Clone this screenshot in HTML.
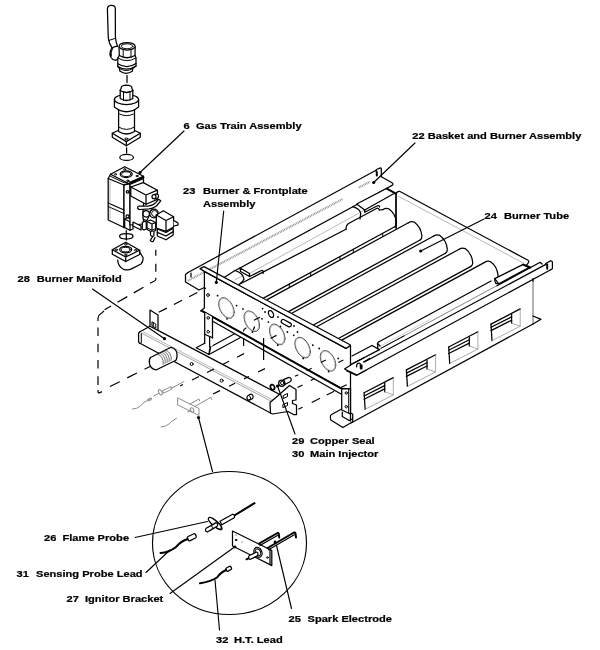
<!DOCTYPE html>
<html><head><meta charset="utf-8"><title>Burner Assembly</title>
<style>
html,body{margin:0;padding:0;background:#fff;}
svg{display:block;will-change:transform;}
svg *{vector-effect:none;}
.k{fill:none;stroke:#000;stroke-width:1.25;stroke-linecap:round;stroke-linejoin:round;}
.kf{fill:#fff;stroke:#000;stroke-width:1.25;stroke-linecap:round;stroke-linejoin:round;}
.t{fill:none;stroke:#000;stroke-width:1;stroke-linecap:round;stroke-linejoin:round;}
.tf{fill:#fff;stroke:#000;stroke-width:0.9;stroke-linecap:round;stroke-linejoin:round;}
.l{fill:none;stroke:#000;stroke-width:1.15;stroke-linecap:round;}
.g{fill:none;stroke:#999;stroke-width:0.7;stroke-linecap:round;stroke-linejoin:round;}
.gg{fill:none;stroke:#bbb;stroke-width:0.7;}
.b{fill:none;stroke:#000;stroke-width:2;stroke-linecap:round;stroke-linejoin:round;}
.d{fill:none;stroke:#000;stroke-width:1.2;stroke-dasharray:9 9;}
.dot{fill:#000;stroke:none;}
.w{fill:#fff;stroke:none;}
text{font-family:"Liberation Sans",Arial,Helvetica,sans-serif;font-weight:bold;font-size:11.1px;fill:#000;stroke:#000;stroke-width:0.25px;}
</style></head><body>
<svg width="600" height="650" viewBox="0 0 600 650">
<rect x="0" y="0" width="600" height="650" fill="#fff"/>
<text transform="translate(183.5 128.9) scale(1 0.9)">6</text>
<text transform="translate(196.0 128.9) scale(1 0.9)">Gas Train Assembly</text>
<text transform="translate(412.3 138.7) scale(1 0.9)">22 Basket and Burner Assembly</text>
<text transform="translate(183.0 194.4) scale(1 0.9)">23</text>
<text transform="translate(203.0 194.4) scale(1 0.9)">Burner &amp; Frontplate</text>
<text transform="translate(203.0 207.1) scale(1 0.9)">Assembly</text>
<text transform="translate(484.5 219.4) scale(1 0.9)">24</text>
<text transform="translate(504.0 219.4) scale(1 0.9)">Burner Tube</text>
<text transform="translate(17.5 281.9) scale(1 0.9)">28</text>
<text transform="translate(36.7 281.9) scale(1 0.9)">Burner Manifold</text>
<text transform="translate(292.0 444.2) scale(1 0.9)">29</text>
<text transform="translate(310.0 444.2) scale(1 0.9)">Copper Seal</text>
<text transform="translate(292.0 457.2) scale(1 0.9)">30</text>
<text transform="translate(310.0 457.2) scale(1 0.9)">Main Injector</text>
<text transform="translate(44.0 541.4) scale(1 0.9)">26</text>
<text transform="translate(62.5 541.4) scale(1 0.9)">Flame Probe</text>
<text transform="translate(16.5 576.9) scale(1 0.9)">31</text>
<text transform="translate(36.0 576.9) scale(1 0.9)">Sensing Probe Lead</text>
<text transform="translate(66.5 602.4) scale(1 0.9)">27</text>
<text transform="translate(85.0 602.4) scale(1 0.9)">Ignitor Bracket</text>
<text transform="translate(288.5 622.4) scale(1 0.9)">25</text>
<text transform="translate(307.5 622.4) scale(1 0.9)">Spark Electrode</text>
<text transform="translate(216.0 643.4) scale(1 0.9)">32</text>
<text transform="translate(234.0 643.4) scale(1 0.9)">H.T. Lead</text>
<path d="M107.4 9.5 Q107.3 5.6 111 5.4 Q115.2 5.2 115.3 8.5 L115.4 37 Q115.8 42 117.5 46.3 L112.5 48.5 Q109 44 108.3 38 Z" class="kf"/>
<line x1="108.8" y1="40.5" x2="115.7" y2="38.2" class="t"/>
<path d="M117.5 46.3 Q113 46 111 49.5 Q109 53.5 111 57.5 Q113 60.8 116.5 60 L118.5 58" class="kf"/>
<path d="M112.5 48.5 Q110.5 52 111.2 56" class="t"/>
<path d="M119 47 L119.3 55.5 L117.8 58 L117.8 66.5 L119.6 68.5 L119.8 71 Q126 75.5 132.3 71.3 L132.8 68.5 L136 66 L136 58 L135 55.5 L135.2 47 Z" class="kf"/>
<ellipse cx="127.1" cy="46.3" rx="8.1" ry="3.7" class="kf"/>
<ellipse cx="127.1" cy="46.3" rx="5.8" ry="2.5" class="t"/>
<path d="M119.3 55.5 Q127 60 135 55.5" class="k"/>
<path d="M117.8 58 Q127 63.5 136 58" class="t"/>
<path d="M117.8 63.7 Q127 69.5 136 63.5" class="k"/>
<path d="M117.8 66.5 Q127 72 136 66" class="k"/>
<path d="M119.6 68.5 Q126.5 72.8 132.8 68.5" class="t"/>
<line x1="123.2" y1="49.5" x2="123.2" y2="57.3" class="t"/>
<line x1="131.0" y1="49.5" x2="131.0" y2="57.3" class="t"/>
<line x1="127.0" y1="75.5" x2="127.0" y2="82.5" class="k"/>
<path d="M112.3 133.2 L126.5 126.5 L140.3 133.2 L140.3 137.3 L126.3 145.8 L112.3 137.3 Z" class="kf"/>
<path d="M112.3 133.2 L126.3 141.6 L140.3 133.2 M126.3 141.6 L126.3 145.8" class="k"/>
<ellipse cx="126.3" cy="138.8" rx="1.6" ry="0.8" class="t"/>
<path d="M118.6 108 L118.6 131.5 Q126.5 136.5 134.5 131.5 L134.5 108 Z" class="kf"/>
<path d="M118.6 127 Q126.5 132 134.5 127" class="t"/>
<path d="M119.5 114 Q126.5 117.5 133.5 114" class="t"/>
<path d="M114.4 99.5 L114.4 107 Q126.5 116.5 138.6 107 L138.6 99.5 Z" class="kf"/>
<ellipse cx="126.5" cy="99.5" rx="12.1" ry="5.0" class="kf"/>
<path d="M120.2 90 L120.2 98.5 Q126.5 102.5 132.8 98.5 L132.8 90 Z" class="kf"/>
<path d="M121.2 88 Q121 85.3 126.5 85.2 Q132 85.3 131.8 88 L132.8 90.5 Q126.5 94.5 120.2 90.5 Z" class="kf"/>
<line x1="123.5" y1="92.3" x2="123.5" y2="100.3" class="t"/>
<line x1="130.0" y1="92.0" x2="130.0" y2="100.0" class="t"/>
<path d="M122 91.5 Q126.5 93.8 131 91.5" class="t"/>
<line x1="126.6" y1="147.8" x2="126.6" y2="153.0" class="k"/>
<ellipse cx="126.6" cy="157.4" rx="6.8" ry="3.0" class="k"/>
<path d="M117.7 260 Q118 266.5 123.5 269.3 Q128 270.8 132 268.6 L141 264 Q143.5 261.5 143 257.5 L139.7 252" class="kf"/>
<path d="M112.3 249.7 L125.7 242.3 L139.7 250.3 L139.7 254.5 L125.7 261.5 L112.3 254.2 Z" class="kf"/>
<path d="M112.3 249.7 L125.7 257 L139.7 250.3 M125.7 257 L125.7 261.5" class="k"/>
<ellipse cx="125.7" cy="249.6" rx="6.0" ry="3.3" class="k"/>
<ellipse cx="125.7" cy="249.6" rx="4.4" ry="2.3" class="t"/>
<ellipse cx="116.3" cy="249.8" rx="1.2" ry="0.7" class="t"/>
<ellipse cx="135.6" cy="250.2" rx="1.2" ry="0.7" class="t"/>
<ellipse cx="125.7" cy="244.3" rx="1.2" ry="0.7" class="t"/>
<ellipse cx="125.7" cy="255.0" rx="1.2" ry="0.7" class="t"/>
<ellipse cx="126.3" cy="236.3" rx="6.7" ry="2.7" class="k"/>
<line x1="126.3" y1="230.5" x2="126.3" y2="240.0" class="k"/>
<path d="M108.2 178.5 L124.0 185.0 L124.0 227.5 L108.2 220.0 Z" class="kf"/>
<path d="M124.0 185.0 L130.0 182.3 L130.0 225.0 L124.0 227.5 Z" class="kf"/>
<path d="M110.5 174.2 L124.7 166.7 L143.5 176.3 L129.5 184.0 Z" class="kf"/>
<path d="M108.2 178.5 L110.5 174.2 M124 185 L129.5 184 M130 182.3 L143.5 176.3" class="k"/>
<path d="M110.5 176.3 L124.3 182.8 L129.3 181.5" class="t"/>
<ellipse cx="126.2" cy="174.2" rx="6.0" ry="3.3" class="k"/>
<ellipse cx="126.2" cy="174.2" rx="4.6" ry="2.4" class="t"/>
<ellipse cx="115.5" cy="174.3" rx="1.1" ry="0.7" class="t"/>
<ellipse cx="124.7" cy="169.3" rx="1.1" ry="0.7" class="t"/>
<ellipse cx="137.0" cy="176.0" rx="1.1" ry="0.7" class="t"/>
<ellipse cx="127.8" cy="180.6" rx="1.1" ry="0.7" class="t"/>
<line x1="108.2" y1="203.0" x2="124.0" y2="210.0" class="k"/>
<line x1="108.2" y1="206.5" x2="124.0" y2="213.5" class="t"/>
<line x1="110.0" y1="181.0" x2="110.0" y2="219.0" class="g"/>
<path d="M124.7 219.0 L127.5 217.5 L133.0 220.3 L133.0 229.0 L130.0 230.3 L124.7 227.6 Z" class="kf"/>
<path d="M124.7 219 L130 221.8 L133 220.3 M130 221.8 L130 230.3" class="k"/>
<circle cx="127.5" cy="216.3" r="1.5" class="kf"/>
<path d="M130.0 184.5 L143.5 178.5 L143.5 224.0 L130.0 225.0 Z" class="kf"/>
<path d="M130.3 183 L143.5 177.3" class="b"/>
<path d="M133 222 L141 226 L141 230 L133 226 Z" class="kf"/>
<circle cx="127.6" cy="191.8" r="1.3" class="kf"/>
<path d="M130.8 187.0 L143.3 182.6 L157.4 190.2 L157.4 199.4 L146.0 204.3 L130.8 196.0 Z" class="kf"/>
<path d="M130.8 187 L146 195 L157.4 190.2 M146 195 L146 204.3" class="k"/>
<path d="M154 194.6 L156.6 193.8 Q158.6 194.2 158.6 196.3 Q158.6 198 157 198.5 L154.3 198.8" class="kf"/>
<circle cx="154.0" cy="196.7" r="2.0" class="kf"/>
<path d="M139 206 Q137.3 206.5 137.6 208 Q138 209.6 140 209.5 L149 208.8 Q155 208 158 204 L160.8 200.8 L158.6 199.2 L156 202.3 Q153 205.6 148.5 206 Z" class="kf"/>
<path d="M143 210 L143 218.5 Q144.5 220.5 147 220.3 L150 214" class="kf"/>
<circle cx="146.2" cy="213.8" r="3.2" class="kf"/>
<circle cx="154.0" cy="213.5" r="4.3" class="kf"/>
<circle cx="154.6" cy="213.5" r="3.0" class="t"/>
<path d="M149.6 213.5 Q149.8 209.8 153 209.3" class="t"/>
<path d="M147.0 221.5 L150.5 220.0 L155.7 222.5 L155.7 230.5 L152.0 232.0 L147.0 229.5 Z" class="kf"/>
<path d="M147 221.5 L152 224 L155.7 222.5 M152 224 L152 232" class="k"/>
<path d="M147.5 228 L152 230.3 L155.7 228.7" class="t"/>
<path d="M150.5 232 L150.5 235 Q151.8 237 153.8 236 L154 231.5" class="kf"/>
<path d="M152.5 236.8 L150.2 240.5 Q151.5 242.3 153.3 241.2 L155 237.5" class="kf"/>
<path d="M142.3 222.5 L144.5 221.3 L146.3 222.3 L146.3 229.0 L144.0 230.0 L142.3 229.0 Z" class="kf"/>
<path d="M156.3 215.0 L163.3 210.8 L173.6 216.7 L173.6 227.0 L166.0 231.3 L156.3 228.0 Z" class="kf"/>
<path d="M156.3 215 L166 220.5 L173.6 216.7 M166 220.5 L166 231.3" class="k"/>
<path d="M173.6 220.5 L177.6 222.6 Q178.8 223.8 177.8 225.2 L173.6 226" class="kf"/>
<path d="M157.3 229.0 L166.0 232.5 L173.2 228.3 L173.2 235.0 L166.0 239.8 L157.3 236.0 Z" class="kf"/>
<path d="M157.3 232.3 L166 236 L173.2 231.6" class="k"/>
<path d="M396 228 L396 194.5 Q396.5 191 399.5 191.3 L528 260.3 Q530 261.5 526.5 265" class="k"/>
<path d="M398 196 L524 263.5" class="g"/>
<line x1="396.0" y1="228.0" x2="396.0" y2="194.5" class="k"/>
<line x1="188.0" y1="272.5" x2="376.0" y2="170.3" class="k"/>
<path d="M188 272.5 L185.5 274.5 L185.5 282 L199 290 L204.5 287.5" class="k"/>
<line x1="191.0" y1="273.0" x2="191.0" y2="277.0" class="k"/>
<path d="M376 171.3 L376.5 169.5 L380.5 167.8 L381.3 168.5 L381.3 176.7" class="k"/>
<line x1="376.8" y1="172.0" x2="376.8" y2="175.5" class="b"/>
<path d="M381.3 176.7 L392 182.7 Q394 184 392 185.4 L386 188.7" class="k"/>
<line x1="386.7" y1="188.7" x2="395.5" y2="193.5" class="b"/>
<path d="M188 280.7 L343 198.9" class="g" style="stroke-dasharray:1 0.7;stroke-width:2.2;stroke:#999;stroke-linecap:butt"/>
<path d="M359 187.5 L370 181.7" class="g" style="stroke-dasharray:1 0.7;stroke-width:2.2;stroke:#999;stroke-linecap:butt"/>
<line x1="240.0" y1="268.0" x2="386.0" y2="188.7" class="k"/>
<line x1="249.5" y1="273.5" x2="364.7" y2="210.0" class="g"/>
<path d="M356.7 204.0 L386.0 188.7 L394.5 193.3 L364.7 210.0 Z" class="kf"/>
<path d="M364.7 210 L364.7 212.3 L377 206 Q380 205 379.5 207" class="k"/>
<path d="M352.7 206.7 Q360 209 360.7 213.3 L360 219" class="k"/>
<path d="M240 268 L249.5 273.5 L249.5 276.5 L240.5 271.5 Z" class="kf"/>
<path d="M249.5 276.5 L262 270.3 Q264 270.5 263 273.5" class="k"/>
<path d="M222.5 278.5 L235 270.5 Q243 273 244 279 Q243 282 240 283.5" class="k"/>
<line x1="235.0" y1="280.0" x2="241.5" y2="276.5" class="g"/>
<path d="M235 270.5 L240 268" class="k"/>
<path d="M383.0 209.6 Q386.0 207.6 389.0 209.0 Q395.5 213.6 396.5 222.6 Q396.7 225.6 394.7 226.8" class="k"/>
<line x1="239.0" y1="284.5" x2="346.0" y2="229.3" class="k"/>
<path d="M346 229.3 Q346 225 349 223.3 L377.5 208 Q379 208 379.3 210" class="k"/>
<line x1="379.3" y1="210.0" x2="383.0" y2="209.6" class="k"/>
<line x1="263.0" y1="298.4" x2="394.7" y2="226.8" class="k"/>
<line x1="289.3" y1="284.1" x2="289.3" y2="287.6" class="t"/>
<line x1="310.7" y1="272.5" x2="310.7" y2="275.9" class="t"/>
<line x1="340.0" y1="256.6" x2="340.0" y2="260.0" class="t"/>
<line x1="353.3" y1="249.3" x2="353.3" y2="252.8" class="t"/>
<line x1="382.7" y1="233.3" x2="382.7" y2="236.8" class="t"/>
<path d="M408.4 222.8 Q411.4 220.8 414.4 222.2 Q420.9 226.8 421.9 235.8 Q422.1 238.8 420.1 240.0" class="k"/>
<line x1="267.2" y1="299.6" x2="408.4" y2="222.8" class="k"/>
<line x1="288.0" y1="311.9" x2="420.1" y2="240.0" class="k"/>
<path d="M433.8 236.0 Q436.8 234.0 439.8 235.4 Q446.3 240.0 447.3 249.0 Q447.5 252.0 445.5 253.2" class="k"/>
<line x1="292.2" y1="313.0" x2="433.8" y2="236.0" class="k"/>
<line x1="312.9" y1="325.3" x2="445.5" y2="253.2" class="k"/>
<path d="M459.2 249.2 Q462.2 247.2 465.2 248.6 Q471.7 253.2 472.7 262.2 Q472.9 265.2 470.9 266.4" class="k"/>
<line x1="317.1" y1="326.5" x2="459.2" y2="249.2" class="k"/>
<line x1="337.9" y1="338.8" x2="470.9" y2="266.4" class="k"/>
<path d="M484.6 262.4 Q487.6 260.4 490.6 261.8 Q497.1 266.4 498.1 275.4 Q498.3 278.4 496.3 279.6" class="k"/>
<line x1="342.1" y1="339.9" x2="484.6" y2="262.4" class="k"/>
<line x1="379.0" y1="341.8" x2="491.0" y2="281.0" class="k"/>
<line x1="380" y1="346.3" x2="430" y2="319.5" class="g" style="stroke:#bbb"/>
<line x1="381" y1="348.3" x2="497" y2="285.6" class="t" style="stroke:#666;stroke-width:0.8"/>
<line x1="381.0" y1="348.3" x2="404.0" y2="335.9" class="t"/>
<path d="M377.8 348.6 L377.5 343.5 Q377.8 342 379 341.8" class="k"/>
<path d="M377.5 343.5 L380 346" class="k"/>
<line x1="352.0" y1="356.0" x2="372.0" y2="345.5" class="k"/>
<line x1="372.0" y1="345.5" x2="379.5" y2="349.6" class="k"/>
<path d="M494.7 278.6 L522.7 264.6 L529.0 267.5 L498.8 283.8 Z" class="kf"/>
<path d="M494.7 278.6 Q494.6 281.5 495.8 283.3 L498.8 283.8" class="k"/>
<path d="M523.3 264.6 L530.3 267.5" class="b"/>
<line x1="351.0" y1="364.5" x2="379.5" y2="349.6" class="k"/>
<path d="M497 285.8 L540.2 262.3 L542 264" class="k"/>
<line x1="363.5" y1="362.5" x2="545.4" y2="264.6" class="k"/>
<line x1="357.0" y1="375.0" x2="550.7" y2="269.8" class="k"/>
<path d="M545.4 264.6 L546 263.4 L550.7 260.7 L552.4 261.7 L552.4 268.7 L550.7 269.8" class="k"/>
<line x1="547.2" y1="264.6" x2="547.2" y2="268.7" class="b"/>
<line x1="533" y1="280" x2="533" y2="324" class="t" style="stroke:#666"/>
<path d="M533 316 L541 319.3 L533 324" class="k"/>
<line x1="351.0" y1="423.0" x2="533.0" y2="324.0" class="k"/>
<line x1="533.0" y1="278.5" x2="533.0" y2="281.0" class="k"/>
<line x1="364.1" y1="392.8" x2="393.3" y2="377.6" class="k"/>
<line x1="364.1" y1="392.8" x2="365.1" y2="409.3" class="k"/>
<path d="M393.3 377.6 L393.3 394.9 L365.1 409.3" class="g" style="stroke:#888"/>
<line x1="384.7" y1="382.9" x2="384.7" y2="391.8" class="k"/>
<line x1="364.1" y1="396.0" x2="384.7" y2="385.6" class="k"/>
<line x1="364.1" y1="399.3" x2="384.7" y2="388.9" class="k"/>
<path d="M384.7 391.8 L393.3 394.9" class="g" style="stroke:#888"/>
<line x1="406.4" y1="369.9" x2="435.6" y2="354.7" class="k"/>
<line x1="406.4" y1="369.9" x2="407.4" y2="386.4" class="k"/>
<path d="M435.6 354.7 L435.6 372.0 L407.4 386.4" class="g" style="stroke:#888"/>
<line x1="427.0" y1="360.0" x2="427.0" y2="368.9" class="k"/>
<line x1="406.4" y1="373.1" x2="427.0" y2="362.7" class="k"/>
<line x1="406.4" y1="376.4" x2="427.0" y2="366.0" class="k"/>
<path d="M427.0 368.9 L435.6 372.0" class="g" style="stroke:#888"/>
<line x1="448.7" y1="347.0" x2="477.9" y2="331.8" class="k"/>
<line x1="448.7" y1="347.0" x2="449.7" y2="363.5" class="k"/>
<path d="M477.9 331.8 L477.9 349.1 L449.7 363.5" class="g" style="stroke:#888"/>
<line x1="469.3" y1="337.1" x2="469.3" y2="346.0" class="k"/>
<line x1="448.7" y1="350.2" x2="469.3" y2="339.8" class="k"/>
<line x1="448.7" y1="353.5" x2="469.3" y2="343.1" class="k"/>
<path d="M469.3 346.0 L477.9 349.1" class="g" style="stroke:#888"/>
<line x1="491.0" y1="324.1" x2="520.2" y2="308.9" class="k"/>
<line x1="491.0" y1="324.1" x2="492.0" y2="340.6" class="k"/>
<path d="M520.2 308.9 L520.2 326.2 L492.0 340.6" class="g" style="stroke:#888"/>
<line x1="511.6" y1="314.2" x2="511.6" y2="323.1" class="k"/>
<line x1="491.0" y1="327.3" x2="511.6" y2="316.9" class="k"/>
<line x1="491.0" y1="330.6" x2="511.6" y2="320.2" class="k"/>
<path d="M511.6 323.1 L520.2 326.2" class="g" style="stroke:#888"/>
<path d="M210.8 346.7 L258.0 321.0 L264.0 324.8 L209.0 354.5 Z" class="kf"/>
<path d="M341.7 409 L332 414.2 Q330.2 415 330.3 417 L330.8 420 L342.9 427.5 L352.7 421.7 L352.7 414 Z" class="kf"/>
<path d="M342.3 412 L342.3 416.5 L349.2 420.5 L352.5 418.8" class="k"/>
<line x1="350.5" y1="388.0" x2="350.5" y2="421.0" class="k"/>
<path d="M204.4 271.4 L346.0 348.4 L350.5 345.3 L350.5 388.8 L341.0 388.4 L202.7 311.3 L200.5 311.0 L204.4 308.0 Z" class="kf"/>
<path d="M200.0 268.6 L204.0 266.6 L348.7 344.0 L350.5 345.3 L346.0 348.4 L204.4 271.4 Z" class="kf"/>
<path d="M202.7 311.3 L341.0 388.3 L341.0 394.0 L212.7 321.3 Z" class="w"/>
<line x1="212.7" y1="321.3" x2="341.0" y2="394.0" class="k"/>
<line x1="202.7" y1="311.3" x2="341.0" y2="388.3" class="b"/>
<line x1="341.0" y1="388.4" x2="350.5" y2="388.8" class="k"/>
<path d="M196.2 347.8 L204.7 343.2 L204.7 340.0 L212.5 340.0 L212.5 346.0 L209.6 349.3 L209.0 354.5 Z" class="w"/>
<path d="M204.7 312.6 L212.5 317.0 L212.5 337.8 L209.6 339.5 L209.6 346.5 L204.7 343.5 Z" class="w"/>
<line x1="204.7" y1="312.6" x2="204.7" y2="343.3" class="k"/>
<line x1="212.5" y1="317.0" x2="212.5" y2="337.8" class="k"/>
<line x1="204.7" y1="334.2" x2="212.5" y2="337.8" class="k"/>
<line x1="209.6" y1="336.6" x2="209.6" y2="347.0" class="k"/>
<circle cx="208.2" cy="317.9" r="1.3" class="t"/>
<circle cx="208.2" cy="331.7" r="1.3" class="t"/>
<path d="M204.7 343.2 L196.2 347.8 L209 354.5 L209.6 349.3 L210.8 346.7" class="k"/>
<path d="M341.7 388.6 L350.5 388.8 L350.5 414.0 L341.7 410.0 Z" class="kf"/>
<line x1="348.7" y1="389.5" x2="348.7" y2="413.0" class="t"/>
<circle cx="346.3" cy="393.0" r="1.2" class="t"/>
<circle cx="346.3" cy="406.7" r="1.2" class="t"/>
<path d="M234.1 312.2 L234.0 313.6 L233.7 314.9 L233.3 316.0 L232.6 316.9 L231.8 317.6 L230.9 318.1 L229.9 318.3 L228.8 318.2 L227.6 317.9 L226.4 317.4 L225.2 316.6 L224.0 315.6 L222.9 314.5 L221.9 313.1 L221.0 311.7 L220.2 310.1 L219.5 308.5 L219.1 306.9 L218.8 305.3 L218.7 303.8 L218.8 302.4 L219.1 301.1 L219.5 300.0 L220.2 299.1 L221.0 298.4 L221.9 297.9 L222.9 297.7 L224.0 297.8 L225.2 298.1 L226.4 298.6 L227.6 299.4 L228.8 300.4 L229.9 301.5 L230.9 302.9 L231.8 304.3 L232.6 305.9 L233.3 307.5 L233.7 309.1 L234.0 310.7 L234.1 312.2 Z" class="t" style="stroke:#333;stroke-width:0.9"/>
<path d="M233.4 311.8 L233.3 313.1 L233.1 314.3 L232.6 315.3 L232.1 316.1 L231.3 316.8 L230.5 317.2 L229.6 317.4 L228.6 317.4 L227.5 317.1 L226.4 316.6 L225.3 315.9 L224.2 315.0 L223.2 313.9 L222.3 312.7 L221.5 311.4 L220.7 310.0 L220.2 308.5 L219.7 307.0 L219.5 305.6 L219.4 304.2 L219.5 302.9 L219.7 301.7 L220.2 300.7 L220.7 299.9 L221.5 299.2 L222.3 298.8 L223.2 298.6 L224.2 298.6 L225.3 298.9 L226.4 299.4 L227.5 300.1 L228.6 301.0 L229.6 302.1 L230.5 303.3 L231.3 304.6 L232.1 306.0 L232.6 307.5 L233.1 309.0 L233.3 310.4 L233.4 311.8 Z" class="t" style="stroke:#999;stroke-width:0.6"/>
<circle cx="217.6" cy="295.7" r="0.9" class="dot"/>
<circle cx="236.6" cy="305.6" r="0.9" class="dot"/>
<circle cx="227.0" cy="318.8" r="0.9" class="dot"/>
<path d="M259.5 325.4 L259.4 326.8 L259.1 328.1 L258.7 329.2 L258.0 330.1 L257.2 330.8 L256.3 331.3 L255.3 331.5 L254.2 331.4 L253.0 331.1 L251.8 330.6 L250.6 329.8 L249.4 328.8 L248.3 327.7 L247.3 326.3 L246.4 324.9 L245.6 323.3 L244.9 321.7 L244.5 320.1 L244.2 318.5 L244.1 317.0 L244.2 315.6 L244.5 314.3 L244.9 313.2 L245.6 312.3 L246.4 311.6 L247.3 311.1 L248.3 310.9 L249.4 311.0 L250.6 311.3 L251.8 311.8 L253.0 312.6 L254.2 313.6 L255.3 314.7 L256.3 316.1 L257.2 317.5 L258.0 319.1 L258.7 320.7 L259.1 322.3 L259.4 323.9 L259.5 325.4 Z" class="t" style="stroke:#333;stroke-width:0.9"/>
<path d="M258.8 325.0 L258.7 326.3 L258.5 327.5 L258.0 328.5 L257.5 329.3 L256.7 330.0 L255.9 330.4 L255.0 330.6 L254.0 330.6 L252.9 330.3 L251.8 329.8 L250.7 329.1 L249.6 328.2 L248.6 327.1 L247.7 325.9 L246.9 324.6 L246.1 323.2 L245.6 321.7 L245.1 320.2 L244.9 318.8 L244.8 317.4 L244.9 316.1 L245.1 314.9 L245.6 313.9 L246.1 313.1 L246.9 312.4 L247.7 312.0 L248.6 311.8 L249.6 311.8 L250.7 312.1 L251.8 312.6 L252.9 313.3 L254.0 314.2 L255.0 315.3 L255.9 316.5 L256.7 317.8 L257.5 319.2 L258.0 320.7 L258.5 322.2 L258.7 323.6 L258.8 325.0 Z" class="t" style="stroke:#999;stroke-width:0.6"/>
<circle cx="243.0" cy="308.9" r="0.9" class="dot"/>
<circle cx="262.0" cy="318.8" r="0.9" class="dot"/>
<circle cx="252.4" cy="332.0" r="0.9" class="dot"/>
<path d="M284.9 338.6 L284.8 340.0 L284.5 341.3 L284.1 342.4 L283.4 343.3 L282.6 344.0 L281.7 344.5 L280.7 344.7 L279.6 344.6 L278.4 344.3 L277.2 343.8 L276.0 343.0 L274.8 342.0 L273.7 340.9 L272.7 339.5 L271.8 338.1 L271.0 336.5 L270.3 334.9 L269.9 333.3 L269.6 331.7 L269.5 330.2 L269.6 328.8 L269.9 327.5 L270.3 326.4 L271.0 325.5 L271.8 324.8 L272.7 324.3 L273.7 324.1 L274.8 324.2 L276.0 324.5 L277.2 325.0 L278.4 325.8 L279.6 326.8 L280.7 327.9 L281.7 329.3 L282.6 330.7 L283.4 332.3 L284.1 333.9 L284.5 335.5 L284.8 337.1 L284.9 338.6 Z" class="t" style="stroke:#333;stroke-width:0.9"/>
<path d="M284.2 338.2 L284.1 339.5 L283.9 340.7 L283.4 341.7 L282.9 342.5 L282.1 343.2 L281.3 343.6 L280.4 343.8 L279.4 343.8 L278.3 343.5 L277.2 343.0 L276.1 342.3 L275.0 341.4 L274.0 340.3 L273.1 339.1 L272.3 337.8 L271.5 336.4 L271.0 334.9 L270.5 333.4 L270.3 332.0 L270.2 330.6 L270.3 329.3 L270.5 328.1 L271.0 327.1 L271.5 326.3 L272.3 325.6 L273.1 325.2 L274.0 325.0 L275.0 325.0 L276.1 325.3 L277.2 325.8 L278.3 326.5 L279.4 327.4 L280.4 328.5 L281.3 329.7 L282.1 331.0 L282.9 332.4 L283.4 333.9 L283.9 335.4 L284.1 336.8 L284.2 338.2 Z" class="t" style="stroke:#999;stroke-width:0.6"/>
<circle cx="268.4" cy="322.1" r="0.9" class="dot"/>
<circle cx="287.4" cy="332.0" r="0.9" class="dot"/>
<circle cx="277.8" cy="345.2" r="0.9" class="dot"/>
<path d="M310.3 351.8 L310.2 353.2 L309.9 354.5 L309.5 355.6 L308.8 356.5 L308.0 357.2 L307.1 357.7 L306.1 357.9 L305.0 357.8 L303.8 357.5 L302.6 357.0 L301.4 356.2 L300.2 355.2 L299.1 354.1 L298.1 352.7 L297.2 351.3 L296.4 349.7 L295.7 348.1 L295.3 346.5 L295.0 344.9 L294.9 343.4 L295.0 342.0 L295.3 340.7 L295.7 339.6 L296.4 338.7 L297.2 338.0 L298.1 337.5 L299.1 337.3 L300.2 337.4 L301.4 337.7 L302.6 338.2 L303.8 339.0 L305.0 340.0 L306.1 341.1 L307.1 342.5 L308.0 343.9 L308.8 345.5 L309.5 347.1 L309.9 348.7 L310.2 350.3 L310.3 351.8 Z" class="t" style="stroke:#333;stroke-width:0.9"/>
<path d="M309.6 351.4 L309.5 352.7 L309.3 353.9 L308.8 354.9 L308.3 355.7 L307.5 356.4 L306.7 356.8 L305.8 357.0 L304.8 357.0 L303.7 356.7 L302.6 356.2 L301.5 355.5 L300.4 354.6 L299.4 353.5 L298.5 352.3 L297.7 351.0 L296.9 349.6 L296.4 348.1 L295.9 346.6 L295.7 345.2 L295.6 343.8 L295.7 342.5 L295.9 341.3 L296.4 340.3 L296.9 339.5 L297.7 338.8 L298.5 338.4 L299.4 338.2 L300.4 338.2 L301.5 338.5 L302.6 339.0 L303.7 339.7 L304.8 340.6 L305.8 341.7 L306.7 342.9 L307.5 344.2 L308.3 345.6 L308.8 347.1 L309.3 348.6 L309.5 350.0 L309.6 351.4 Z" class="t" style="stroke:#999;stroke-width:0.6"/>
<circle cx="293.8" cy="335.3" r="0.9" class="dot"/>
<circle cx="312.8" cy="345.2" r="0.9" class="dot"/>
<circle cx="303.2" cy="358.4" r="0.9" class="dot"/>
<path d="M335.7 365.0 L335.6 366.4 L335.3 367.7 L334.9 368.8 L334.2 369.7 L333.4 370.4 L332.5 370.9 L331.5 371.1 L330.4 371.0 L329.2 370.7 L328.0 370.2 L326.8 369.4 L325.6 368.4 L324.5 367.3 L323.5 365.9 L322.6 364.5 L321.8 362.9 L321.1 361.3 L320.7 359.7 L320.4 358.1 L320.3 356.6 L320.4 355.2 L320.7 353.9 L321.1 352.8 L321.8 351.9 L322.6 351.2 L323.5 350.7 L324.5 350.5 L325.6 350.6 L326.8 350.9 L328.0 351.4 L329.2 352.2 L330.4 353.2 L331.5 354.3 L332.5 355.7 L333.4 357.1 L334.2 358.7 L334.9 360.3 L335.3 361.9 L335.6 363.5 L335.7 365.0 Z" class="t" style="stroke:#333;stroke-width:0.9"/>
<path d="M335.0 364.6 L334.9 365.9 L334.7 367.1 L334.2 368.1 L333.7 368.9 L332.9 369.6 L332.1 370.0 L331.2 370.2 L330.2 370.2 L329.1 369.9 L328.0 369.4 L326.9 368.7 L325.8 367.8 L324.8 366.7 L323.9 365.5 L323.1 364.2 L322.3 362.8 L321.8 361.3 L321.3 359.8 L321.1 358.4 L321.0 357.0 L321.1 355.7 L321.3 354.5 L321.8 353.5 L322.3 352.7 L323.1 352.0 L323.9 351.6 L324.8 351.4 L325.8 351.4 L326.9 351.7 L328.0 352.2 L329.1 352.9 L330.2 353.8 L331.2 354.9 L332.1 356.1 L332.9 357.4 L333.7 358.8 L334.2 360.3 L334.7 361.8 L334.9 363.2 L335.0 364.6 Z" class="t" style="stroke:#999;stroke-width:0.6"/>
<circle cx="319.2" cy="348.5" r="0.9" class="dot"/>
<circle cx="338.2" cy="358.4" r="0.9" class="dot"/>
<circle cx="328.6" cy="371.6" r="0.9" class="dot"/>
<circle cx="208.0" cy="295.0" r="1.4" class="t"/>
<path d="M273.6 315.4 L273.6 315.9 L273.5 316.3 L273.3 316.7 L273.1 317.0 L272.8 317.3 L272.5 317.4 L272.2 317.5 L271.8 317.5 L271.4 317.4 L271.0 317.2 L270.6 316.9 L270.2 316.6 L269.8 316.2 L269.5 315.8 L269.2 315.3 L268.9 314.7 L268.7 314.2 L268.5 313.6 L268.4 313.1 L268.4 312.6 L268.4 312.1 L268.5 311.7 L268.7 311.3 L268.9 311.0 L269.2 310.7 L269.5 310.6 L269.8 310.5 L270.2 310.5 L270.6 310.6 L271.0 310.8 L271.4 311.1 L271.8 311.4 L272.2 311.8 L272.5 312.2 L272.8 312.7 L273.1 313.3 L273.3 313.8 L273.5 314.4 L273.6 314.9 L273.6 315.4 Z" class="k"/>
<rect x="-5.5" y="-2" width="11" height="4" rx="2" class="k" transform="translate(286.3 323.2) rotate(28.5)"/>
<circle cx="262.6" cy="308.6" r="0.9" class="dot"/>
<circle cx="265.0" cy="312.0" r="0.9" class="dot"/>
<circle cx="278.0" cy="317.0" r="0.9" class="dot"/>
<circle cx="294.0" cy="326.0" r="0.9" class="dot"/>
<circle cx="280.5" cy="326.5" r="0.9" class="dot"/>
<circle cx="297.5" cy="332.0" r="0.9" class="dot"/>
<path d="M344.5 369.0 L350.8 365.0 L364.0 361.7 L366.0 370.0 L357.0 375.0 Z" class="w"/>
<path d="M350.8 365 L344.5 369 L357 375" class="k"/>
<path d="M346.5 370.8 L356 375.3" class="k"/>
<path d="M356.6 366.8 L356.9 364.3 Q358.5 362.7 360.2 363.5 L360.5 368.8" class="k"/>
<line x1="361.5" y1="365.2" x2="361.5" y2="368.6" class="b"/>
<line x1="351.0" y1="364.5" x2="364.0" y2="357.8" class="k"/>
<path d="M363.5 362 L370 358.3" class="k"/>
<line x1="357.0" y1="375.0" x2="366.0" y2="370.1" class="k"/>
<line x1="155.8" y1="249.7" x2="155.8" y2="277.7" class="d" style="stroke-dasharray:6 8 8 6;stroke-dashoffset:0"/>
<path d="M155.8 277.7 L155.8 279.5 Q155.6 280.5 154 281.3 L150 283.3" class="d" style="stroke-dasharray:none"/>
<line x1="143.5" y1="287.3" x2="104.5" y2="309.7" class="d" style="stroke-dasharray:11.2 7.5;stroke-dashoffset:0"/>
<path d="M104 311 L101 313.6 Q98 315.5 98 318 L98 321" class="d" style="stroke-dasharray:none"/>
<line x1="98.0" y1="327.4" x2="98.0" y2="386.0" class="d" style="stroke-dasharray:8.6 7.7;stroke-dashoffset:0"/>
<path d="M98 390 L98 392 Q98.3 393.4 100 392.6 L102 391.6" class="d" style="stroke-dasharray:none"/>
<line x1="110.0" y1="386.5" x2="150.0" y2="366.5" class="d" style="stroke-dasharray:10.8 8.5;stroke-dashoffset:0"/>
<line x1="158.7" y1="312.3" x2="206.0" y2="288.0" class="d" style="stroke-dasharray:9.2 7.9;stroke-dashoffset:0"/>
<path d="M150.0 310.0 L158.0 315.0 L158.0 332.0 L150.0 327.0 Z" class="kf"/>
<path d="M152.3 322.0 L155.8 324.0 L155.8 328.0 L152.3 326.0 Z" class="t"/>
<line x1="153.3" y1="323.0" x2="153.3" y2="326.5" class="t"/>
<path d="M139.5 332.0 L150.0 326.3 L158.0 330.4 L287.0 398.3 L275.0 403.3 L271.0 413.2 L139.5 343.0 Z" class="w"/>
<path d="M139.5 332 L150 326.3 L158 330.4 L287 398.3" class="k"/>
<path d="M139.5 343 L271 413.2" class="k"/>
<path d="M139.5 332 Q138.6 332.5 138.6 334 L138.6 341.5 Q138.6 343 140 343.3" class="k"/>
<line x1="141.3" y1="333.5" x2="141.3" y2="342.5" class="t"/>
<line x1="141" y1="332.8" x2="273" y2="402.2" class="g" style="stroke:#777"/>
<line x1="143.5" y1="332" x2="275" y2="401.2" class="g" style="stroke:#999"/>
<circle cx="191.6" cy="364.0" r="1.5" class="t"/>
<circle cx="221.6" cy="380.6" r="1.5" class="t"/>
<path d="M150.5 357.5 L171 347.3 Q176.5 348.5 177 354 Q177.3 358 176 360.3 L156.5 369.8 Q151 369.5 149.5 364 Q148.8 359.5 150.5 357.5 Z" class="kf"/>
<path d="M157.5 354.3 Q161.5 355.0 163.0 360.5 Q163.5 363.0 163.0 364.5" class="t" style="stroke-width:0.7;stroke:#333"/>
<path d="M159.5 353.3 Q163.5 354.0 165.0 359.5 Q165.5 362.0 165.0 363.5" class="t" style="stroke-width:0.7;stroke:#333"/>
<path d="M161.5 352.3 Q165.5 353.0 167.0 358.5 Q167.5 361.0 167.0 362.5" class="t" style="stroke-width:0.7;stroke:#333"/>
<path d="M163.5 351.3 Q167.5 352.0 169.0 357.5 Q169.5 360.0 169.0 361.5" class="t" style="stroke-width:0.7;stroke:#333"/>
<path d="M165.5 350.3 Q169.5 351.0 171.0 356.5 Q171.5 359.0 171.0 360.5" class="t" style="stroke-width:0.7;stroke:#333"/>
<path d="M248.5 395.3 L251 394 Q253 394.5 253.2 396.7 Q253 398.7 251.5 399.2 L249 400.3 Q247 399.7 246.8 397.7 Q246.9 396 248.5 395.3 Z" class="kf"/>
<path d="M248.5 395.3 Q250.5 396 250.6 398 Q250.5 399.5 249 400.3" class="t"/>
<path d="M270.0 402.5 L276.5 397.0 L289.5 385.5 L296.0 389.5 L296.0 400.0 L292.5 400.5 L292.5 403.5 L296.5 405.0 L296.5 414.5 L293.5 414.5 L288.0 411.5 L272.5 414.0 L270.5 413.0 Z" class="kf"/>
<path d="M283.5 395.5 L287.5 393.5 L287.5 396.5 L283.5 398.5 Z" class="t"/>
<path d="M283.2 404.5 L287.5 402.5 L287.5 405.5 L283.2 407.5 Z" class="t"/>
<ellipse cx="272.5" cy="387.2" rx="2" ry="2.7" class="k" style="stroke-width:1.7" transform="rotate(-20 272.5 387.2)"/>
<path d="M283.5 379.6 L289 377.3 Q291 377.3 291.3 379.3 Q291.3 381.2 290 381.8 L285 384.5 Z" class="kf"/>
<circle cx="281.8" cy="383.2" r="3.1" class="kf"/>
<circle cx="282.2" cy="383.0" r="1.7" class="t"/>
<line x1="180.0" y1="386.0" x2="183.0" y2="384.5" class="d" style="stroke-dasharray:none"/>
<line x1="192.0" y1="380.0" x2="199.0" y2="376.5" class="d" style="stroke-dasharray:none"/>
<line x1="207.0" y1="372.5" x2="214.0" y2="369.0" class="d" style="stroke-dasharray:none"/>
<line x1="223.0" y1="364.3" x2="229.0" y2="361.3" class="d" style="stroke-dasharray:none"/>
<line x1="237.0" y1="357.2" x2="244.0" y2="353.6" class="d" style="stroke-dasharray:none"/>
<line x1="213.0" y1="394.0" x2="220.0" y2="390.6" class="d" style="stroke-dasharray:none"/>
<line x1="229.0" y1="386.2" x2="235.0" y2="383.3" class="d" style="stroke-dasharray:none"/>
<line x1="244.0" y1="378.9" x2="249.0" y2="376.5" class="d" style="stroke-dasharray:none"/>
<line x1="258.0" y1="372.0" x2="265.0" y2="368.6" class="d" style="stroke-dasharray:none"/>
<line x1="243.6" y1="338.0" x2="243.6" y2="346.0" class="d" style="stroke-dasharray:none"/>
<line x1="263.6" y1="338.0" x2="263.6" y2="360.0" class="d" style="stroke-dasharray:none"/>
<line x1="295.0" y1="376.3" x2="298.3" y2="374.7" class="d" style="stroke-dasharray:none"/>
<line x1="306.7" y1="370.8" x2="311.7" y2="368.3" class="d" style="stroke-dasharray:none"/>
<line x1="338.3" y1="362.5" x2="343.3" y2="360.0" class="d" style="stroke-dasharray:none"/>
<line x1="297.5" y1="387.5" x2="302.5" y2="385.0" class="d" style="stroke-dasharray:none"/>
<line x1="310.8" y1="380.5" x2="315.0" y2="378.3" class="d" style="stroke-dasharray:none"/>
<line x1="311.7" y1="402.5" x2="320.0" y2="398.3" class="d" style="stroke-dasharray:none"/>
<line x1="326.7" y1="395.0" x2="334.2" y2="391.3" class="d" style="stroke-dasharray:none"/>
<line x1="340.8" y1="387.5" x2="346.7" y2="384.7" class="d" style="stroke-dasharray:none"/>
<line x1="298.3" y1="409.2" x2="302.5" y2="407.2" class="d" style="stroke-dasharray:none"/>
<line x1="254.0" y1="320.3" x2="260.0" y2="317.2" class="d" style="stroke-dasharray:none"/>
<line x1="270.5" y1="338.5" x2="276.5" y2="335.4" class="d" style="stroke-dasharray:none"/>
<line x1="320.8" y1="362.5" x2="325.8" y2="360.0" class="d" style="stroke-dasharray:none"/>
<path d="M243.5 331 Q243.6 329 246 328" class="k"/>
<path d="M253.5 329.5 L254.5 327" class="k"/>
<ellipse cx="229.5" cy="543.0" rx="77.0" ry="71.5" class="l"/>
<line x1="254.5" y1="503.2" x2="233.5" y2="516.0" class="b"/>
<line x1="254.5" y1="503.2" x2="233.5" y2="516.0" class="k"/>
<path d="M220 521.3 L232.6 514.2 Q234.5 514.6 234.6 516.2 Q234.6 517.5 233.8 518 L221.8 524.8 Z" class="kf"/>
<ellipse cx="215.6" cy="523.9" rx="2.6" ry="8.2" class="kf" transform="rotate(-49 215.6 523.9)"/>
<ellipse cx="214.8" cy="523.3" rx="2.6" ry="8.2" class="kf" transform="rotate(-49 214.8 523.3)"/>
<path d="M206.2 528.3 L211 525.6 L216 522.6 Q217.6 523 217.7 524.6 Q217.7 526 216.8 526.5 L211.8 529.4 L207.3 532 Q205.7 531.6 205.5 530.2 Q205.4 528.8 206.2 528.3 Z" class="kf"/>
<path d="M211 525.6 Q212.6 526.3 212.6 527.8 Q212.6 529 211.8 529.4" class="t"/>
<rect x="-4.5" y="-2.3" width="9" height="4.6" rx="1.6" class="kf" transform="translate(191.8 537.3) rotate(-27)"/>
<path d="M187.8 539 Q181 541 176 547 Q169 552.5 160.5 553" class="b"/>
<path d="M232.5 531.0 L270.0 549.5 L271.8 550.6 L271.8 565.6 L270.0 564.6 L232.5 546.0 Z" class="kf"/>
<line x1="270.0" y1="549.5" x2="270.0" y2="564.6" class="k"/>
<circle cx="236.0" cy="540.0" r="0.8" class="t"/>
<circle cx="267.5" cy="557.5" r="0.8" class="t"/>
<circle cx="236.0" cy="535.0" r="0.5" class="dot"/>
<circle cx="242.0" cy="542.0" r="0.5" class="dot"/>
<ellipse cx="258.0" cy="552.3" rx="3.8" ry="5.2" class="kf" transform="rotate(-25 258.0 552.3)"/>
<ellipse cx="258.0" cy="552.3" rx="2.5" ry="3.5" class="t" transform="rotate(-25 258.0 552.3)"/>
<path d="M249.5 555.5 L256.5 552 Q258 552.5 258 554 Q258 555.5 257 556 L250 559.5 Q248.5 559 248.5 557.5 Q248.6 556 249.5 555.5 Z" class="kf"/>
<line x1="248.5" y1="558.3" x2="246.5" y2="559.3" class="b"/>
<path d="M259 543.7 L277.5 533 Q278.6 532.6 278.8 533.8 L279.2 537.5" class="b"/>
<path d="M260 545.5 L277.8 535.2" class="k"/>
<path d="M267.5 548 L294 532.5 Q295.2 532.1 295.5 533.4 L296 537.5" class="b"/>
<path d="M268.5 549.8 L294.3 534.8" class="k"/>
<circle cx="235.0" cy="547.0" r="1.4" class="dot"/>
<circle cx="275.0" cy="542.0" r="1.4" class="dot"/>
<rect x="-2.8" y="-1.8" width="5.6" height="3.6" rx="1.2" class="kf" transform="translate(228.7 568.8) rotate(-30)"/>
<path d="M226.3 570 Q221 572 217 577.5 Q210 582 200 583.3" class="b"/>
<g style="opacity:.45">
<line x1="184.0" y1="381.5" x2="171.0" y2="388.5" class="t"/>
<path d="M163 390.5 L171 386.7 L172 389 L164 393 Z" class="t"/>
<ellipse cx="160.3" cy="392.3" rx="1.5" ry="3.0" class="t" transform="rotate(-28 160.3 392.3)"/>
<line x1="158.5" y1="393.5" x2="154.0" y2="395.8" class="t"/>
<path d="M151.5 398.5 L147.5 400.3 M147.5 400.5 Q143 402 140.5 406 Q137 409 132.5 409" class="t"/>
<ellipse cx="149.6" cy="399.4" rx="2.0" ry="1.1" class="t" transform="rotate(-27 149.6 399.4)"/>
<path d="M178.0 398.0 L199.0 408.5 L199.0 415.5 L178.0 405.0 Z" class="t"/>
<ellipse cx="192.0" cy="410.0" rx="1.6" ry="2.3" class="t" transform="rotate(-25 192.0 410.0)"/>
<path d="M190 404 L199 399 L199.6 400.8 M195 406.3 L211 397.3 L211.8 399.5" class="t"/>
<line x1="187.5" y1="412.0" x2="191.0" y2="410.3" class="t"/>
<path d="M176.5 418.5 L174 419.8 M174 420 Q171 421 169 424 Q166 426.5 161 427" class="t"/>
</g>
<line x1="184.0" y1="131.0" x2="140.0" y2="172.5" class="l"/>
<circle cx="140.0" cy="172.5" r="1.6" class="dot"/>
<line x1="415.0" y1="143.0" x2="373.7" y2="182.5" class="l"/>
<circle cx="373.7" cy="182.5" r="1.6" class="dot"/>
<line x1="223.7" y1="211.0" x2="216.3" y2="282.4" class="l"/>
<circle cx="216.3" cy="282.4" r="1.6" class="dot"/>
<line x1="484.0" y1="219.0" x2="420.7" y2="251.0" class="l"/>
<circle cx="420.7" cy="251.0" r="1.6" class="dot"/>
<line x1="92.5" y1="289.0" x2="164.5" y2="338.7" class="l"/>
<circle cx="164.5" cy="338.7" r="1.6" class="dot"/>
<line x1="295.0" y1="434.0" x2="277.5" y2="386.0" class="l"/>
<circle cx="277.5" cy="386.0" r="1.6" class="dot"/>
<line x1="212.5" y1="471.5" x2="198.5" y2="417.5" class="l"/>
<circle cx="198.5" cy="417.5" r="1.6" class="dot"/>
<line x1="135.0" y1="537.5" x2="207.5" y2="521.5" class="l"/>
<line x1="146.0" y1="572.5" x2="170.0" y2="550.0" class="l"/>
<line x1="170.0" y1="593.5" x2="234.5" y2="547.0" class="l"/>
<line x1="291.5" y1="608.5" x2="276.5" y2="545.5" class="l"/>
<line x1="219.5" y1="630.0" x2="215.0" y2="580.0" class="l"/>
</svg>
</body></html>
